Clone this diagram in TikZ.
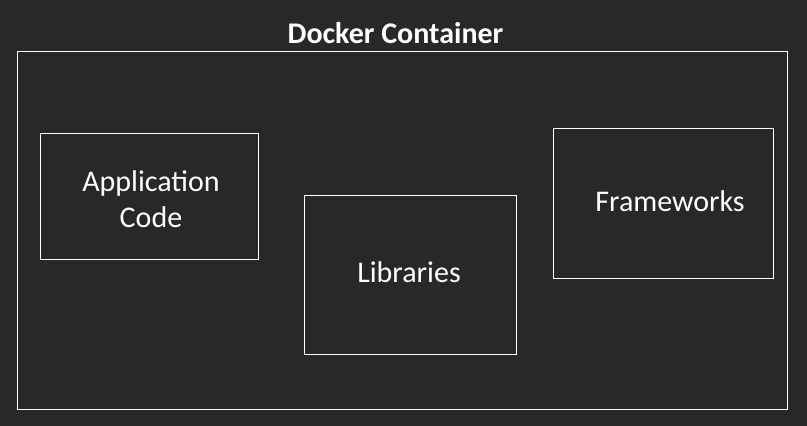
\documentclass[tikz,border=0pt]{standalone}
\usepackage{fontspec}
\setmainfont{Carlito}
\definecolor{bg}{HTML}{282828}
\begin{document}
\begin{tikzpicture}[x=1pt,y=-1pt,
  frame/.style={draw=white,line width=1pt},
  lbl/.style={text=white,font=\fontsize{30}{36}\selectfont,align=center,inner sep=0pt},
  ttl/.style={text=white,font=\fontsize{30}{36}\selectfont\bfseries,inner sep=0pt}]
\fill[bg] (0,0) rectangle (807,426);
\useasboundingbox (0,0) rectangle (807,426);
\draw[frame] (17.5,51.5) rectangle (787.5,409.5);
\node[ttl] (title) at (395.5,33) {Docker Container};
\draw[frame] (40.5,133.5) rectangle (258.5,259.5);
\node[lbl] (app) at (151,199) {Application\\Code};
\draw[frame] (304.5,195.5) rectangle (516.5,354.5);
\node[lbl] (lib) at (409,272) {Libraries};
\draw[frame] (553.5,128.5) rectangle (773.5,278.5);
\node[lbl] (fw) at (670,201) {Frameworks};
\end{tikzpicture}
\end{document}
